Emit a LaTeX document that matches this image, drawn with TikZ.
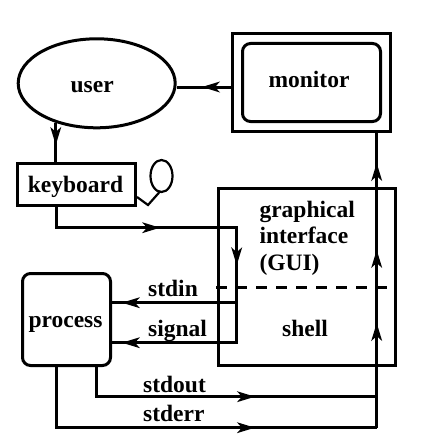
\documentclass[tikz,border=0pt]{standalone}
\usepackage{fontspec}
\setmainfont{Liberation Serif}
\usetikzlibrary{calc,shapes.geometric}
\begin{document}
\begin{tikzpicture}[x=1pt,y=-1pt,line width=3pt,
  lbl/.style={font=\fontsize{23.5}{28}\selectfont\bfseries,inner sep=0pt},
  sqbox/.style={draw,rectangle,inner sep=0pt},
  rdbox/.style={draw,rectangle,rounded corners=8pt,inner sep=0pt},
  ahead/.pic={\fill[line width=0pt] (0pt,0pt) -- (-18pt,5.5pt) -- (-13pt,0pt) -- (-18pt,-5.5pt) -- cycle;},
  dashline/.style={dash pattern=on 10.7pt off 9.3pt}]
\useasboundingbox (0,0) rectangle (428,444);
\fill[white] (0,0) rectangle (428,444);
% shapes
\node[draw,ellipse,inner sep=0pt,minimum width=157pt,minimum height=89pt] (user) at (96.7,83.3) {};
\node[sqbox,minimum width=158pt,minimum height=98pt] (monitor) at (311.5,82.5) {};
\node[rdbox,minimum width=138pt,minimum height=78pt] (monitorin) at (311.5,82.5) {};
\node[sqbox,minimum width=118pt,minimum height=42pt] (keyboard) at (76.5,184.5) {};
\node[sqbox,minimum width=177pt,minimum height=177pt] (gui) at (307,277) {};
\node[rdbox,minimum width=88pt,minimum height=92pt] (process) at (66.5,319.5) {};
% labels
\node[lbl,anchor=base] (userlbl) at (92.2,92.7) {user};
\node[lbl,anchor=base] (monlbl) at (309,87) {monitor};
\node[lbl,anchor=base] (kblbl) at (75.5,192) {keyboard};
\node[lbl,anchor=base] (proclbl) at (65.5,327) {process};
\node[lbl,anchor=base west] (g1) at (258,217) {graphical};
\node[lbl,anchor=base west] (g2) at (258,243.5) {interface};
\node[lbl,anchor=base west] (g3) at (258,270) {(GUI)};
\node[lbl,anchor=base] (shell) at (305,336.5) {shell};
\node[lbl,anchor=base west] (stdin) at (146.7,296.7) {stdin};
\node[lbl,anchor=base west] (signal) at (146.7,336) {signal};
\node[lbl,anchor=base west] (stdout) at (141.7,392.3) {stdout};
\node[lbl,anchor=base west] (stderr) at (141.7,421.7) {stderr};
% keyboard cord
\draw[line width=2.2pt] (137,197) -- (148,205) -- (160,191.5);
\draw[line width=2.2pt] (161.5,176) ellipse [x radius=11, y radius=16];
% coordinates
\coordinate (kb1) at (56.7,227.7);
\coordinate (gin) at (236.7,227.7);
\coordinate (gsin) at (236.7,302.7);
\coordinate (gsig) at (236.7,342.7);
\coordinate (so) at (96.7,396.7);
\coordinate (se) at (56,427.7);
\coordinate (vo) at (376.7,396.7);
\coordinate (ve) at (376.7,427.7);
\coordinate (dl) at (0,287.3);
\coordinate (mw) at ([yshift=-4.5pt]monitor.west);
\coordinate (ue) at (mw -| user.east);
\coordinate (ms) at (monitor.south -| ve);
\coordinate (ub) at (user.224);
\coordinate (kt) at (ub |- keyboard.north);
% connectors
\draw (mw) -- (ue);
\pic[rotate=180] at ($(mw)!0.534!(ue)$) {ahead};
\draw (ub) -- (kt);
\pic[rotate=-90] at ($(ub)!0.564!(kt)$) {ahead};
\draw[line join=miter] (keyboard.south -| kb1) -- (kb1) -- (gin) -- (gsig) -- (gsig -| process.east);
\pic at ($(kb1)!0.574!(gin)$) {ahead};
\pic[rotate=-90] at ($(gin)!0.5!(gsin)$) {ahead};
\draw (gsin) -- (gsin -| process.east);
\pic[rotate=180] at ($(gsin)!0.92!(gsin -| process.east)$) {ahead};
\pic[rotate=180] at ($(gsig)!0.92!(gsig -| process.east)$) {ahead};
\draw[line join=miter] (process.south -| so) -- (so) -- (vo);
\draw[line join=miter] (process.south -| se) -- (se) -- (ve);
\pic at ($(so)!0.565!(vo)$) {ahead};
\pic at ($(se)!0.62!(ve)$) {ahead};
\draw (ve) -- (ms);
\pic[rotate=90] at ($(ve)!0.355!(ms)$) {ahead};
\pic[rotate=90] at ($(ve)!0.603!(ms)$) {ahead};
\pic[rotate=90] at ($(ve)!0.898!(ms)$) {ahead};
\draw[dashline] (216,287.3) -- (gui.east |- dl);
\end{tikzpicture}
\end{document}
